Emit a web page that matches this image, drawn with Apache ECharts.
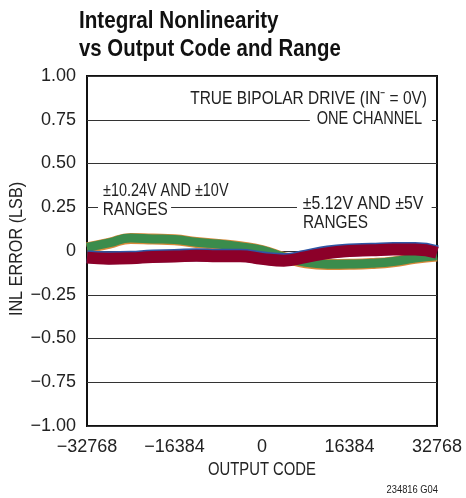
<!DOCTYPE html>
<html>
<head>
<meta charset="utf-8">
<script src="https://cdn.jsdelivr.net/npm/echarts@6/dist/echarts.min.js"></script>
<style>
  html, body { margin: 0; padding: 0; background: #fff; }
  #chart { width: 466px; height: 498px; }
</style>
</head>
<body>
<div id="chart"></div>
<script>
  // output codes where the curves were read
  const codes = [-32768, -28672, -24576, -20480, -16384, -12288, -8192, -4096, 0,
                 4096, 8192, 12288, 16384, 20480, 24576, 28672, 32768];
  // ±10.24V / ±10V ranges (green on top of orange)
  const inl10V24 = [0.020, 0.046, 0.074, 0.069, 0.066, 0.050, 0.040, 0.025, 0.005,
                    -0.035, -0.065, -0.075, -0.074, -0.070, -0.060, -0.040, -0.027];
  const inl10V = [0.018, 0.044, 0.072, 0.068, 0.064, 0.049, 0.038, 0.024, 0.003,
                  -0.037, -0.067, -0.077, -0.076, -0.072, -0.062, -0.042, -0.029];
  // ±5.12V / ±5V ranges (red on top of blue)
  const inl5V12 = [-0.038, -0.044, -0.042, -0.034, -0.032, -0.027, -0.030, -0.030, -0.045,
                   -0.055, -0.035, -0.012, 0.000, 0.004, 0.008, 0.008, -0.010];
  const inl5V = [-0.032, -0.038, -0.036, -0.028, -0.026, -0.021, -0.024, -0.024, -0.039,
                 -0.049, -0.029, -0.006, 0.006, 0.010, 0.014, 0.014, -0.004];
  const xTicks = [-32768, -16384, 0, 16384, 32768];

  const FONT = "'Liberation Sans', Arial, sans-serif";
  const minus = function (s) { return String(s).replace('-', '\u2212'); };

  function pairs(ys) {
    return codes.map(function (c, i) { return [c, ys[i]]; });
  }
  function band(name, ys, color, width) {
    return {
      name: name,
      type: 'line',
      data: pairs(ys),
      smooth: true,
      showSymbol: false,
      silent: true,
      lineStyle: { color: color, width: width, cap: 'butt' }
    };
  }
  // narrow text: regular font squeezed horizontally
  function label(text, x, y, sx, opts) {
    opts = opts || {};
    return {
      type: 'text', z: 100, x: x, y: y, scaleX: sx, rotation: opts.rotation || 0,
      style: {
        text: text,
        align: opts.align || 'left',
        verticalAlign: 'middle',
        font: (opts.weight || 'normal') + ' ' + (opts.size || 19) + 'px ' + FONT,
        fill: opts.color || '#222',
        backgroundColor: opts.bg,
        padding: opts.padding
      }
    };
  }

  const chart = echarts.init(document.getElementById('chart'));
  chart.setOption({
    animation: false,
    grid: {
      left: 87, right: 29, top: 76, bottom: 72,
      outerBoundsMode: 'none',
      containLabel: false,
      show: true, borderColor: '#111', borderWidth: 2
    },
    xAxis: {
      type: 'value',
      min: -32768, max: 32768, interval: 16384,
      axisLine: { show: false },
      axisTick: { show: false },
      splitLine: { show: false },
      axisLabel: {
        fontFamily: FONT, fontSize: 18, color: '#222', margin: 12,
        formatter: function (v) { return xTicks.indexOf(v) >= 0 ? minus(v) : ''; }
      }
    },
    yAxis: {
      type: 'value',
      min: -1, max: 1, interval: 0.25,
      axisLine: { show: false },
      axisTick: { show: false },
      splitLine: { show: true, lineStyle: { color: '#333', width: 1 } },
      axisLabel: {
        fontFamily: FONT, fontSize: 18, color: '#222', margin: 11,
        formatter: function (v) { return v === 0 ? '0' : minus(v.toFixed(2)); }
      }
    },
    series: [
      band('±10V', inl10V, '#d9893a', 11),
      band('±10.24V', inl10V24, '#3b8c4c', 9),
      band('±5V', inl5V, '#2f55a4', 13),
      band('±5.12V', inl5V12, '#8c0029', 12)
    ],
    graphic: [
      label('Integral Nonlinearity', 79, 21, 0.86, { weight: 'bold', size: 24, color: '#111' }),
      label('vs Output Code and Range', 79, 49, 0.85, { weight: 'bold', size: 24, color: '#111' }),
      label('TRUE BIPOLAR DRIVE (IN\u207B = 0V)', 427, 99, 0.815, { align: 'right' }),
      label('ONE CHANNEL', 432, 119, 0.767, { align: 'right', bg: '#fff', padding: [2, 13, 2, 9] }),
      label('±10.24V AND ±10V', 103, 191, 0.758),
      label('RANGES', 98, 210, 0.81, { bg: '#fff', padding: [2, 4, 2, 6] }),
      label('±5.12V AND ±5V', 297, 204, 0.834, { bg: '#fff', padding: [2, 10, 2, 7] }),
      label('RANGES', 303, 223, 0.81),
      label('OUTPUT CODE', 262, 470, 0.78, { align: 'center' }),
      label('INL ERROR (LSB)', 16.5, 249, 0.853, { align: 'center', rotation: Math.PI / 2 }),
      label('234816 G04', 438, 490, 0.85, { align: 'right', size: 11 })
    ]
  });
</script>
</body>
</html>
